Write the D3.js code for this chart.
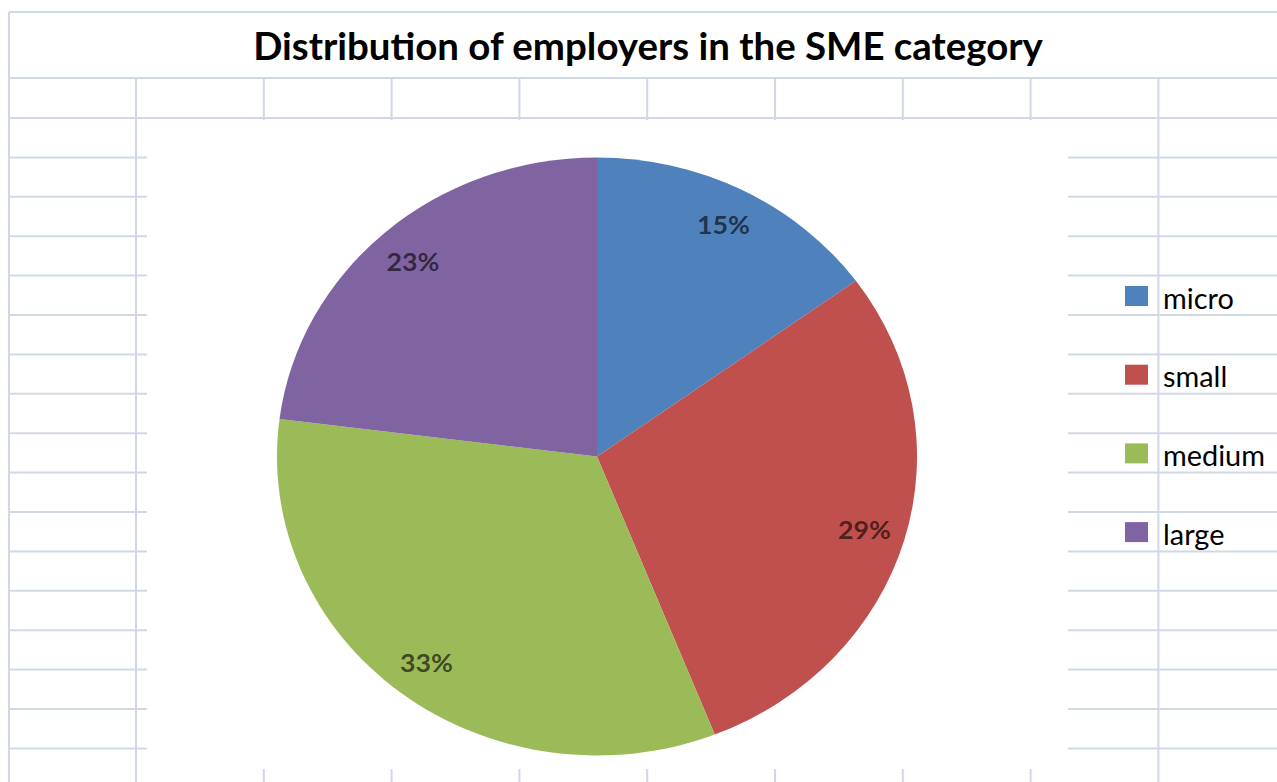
<!DOCTYPE html>
<html>
<head>
<meta charset="utf-8">
<script src="https://cdn.jsdelivr.net/npm/d3@7"></script>
<style>
  html, body { margin: 0; padding: 0; background: #ffffff; }
  svg { display: block; }
</style>
</head>
<body>
<svg id="chart" width="1277" height="782"></svg>
<script>
// Share of employers per size class (percent)
const categories = ["micro", "small", "medium", "large"];
const shares = [15, 29, 33, 23];
const sliceColors = ["#4f81bd", "#c0504d", "#9bbb59", "#8064a2"];
const titleText = "Distribution of employers in the SME category";

const W = 1277, H = 782;
const svg = d3.select("#chart");
const gridColor = "#d0d7e5";

// ---- spreadsheet grid behind the chart ----
const grid = svg.append("g").attr("stroke", gridColor).attr("stroke-width", 2);
const leftEdge = 9, topEdge = 12, titleRowBottom = 78, row2Bottom = 118;
const colStart = 136, colWidth = 127.8, nCols = 9;
const rowHeight = 39.4;
const colXs = d3.range(nCols + 1).map(i => colStart + i * colWidth);

// outer border of the merged title cell
grid.append("line").attr("x1", leftEdge).attr("x2", W).attr("y1", topEdge).attr("y2", topEdge);
grid.append("line").attr("x1", leftEdge).attr("x2", leftEdge).attr("y1", topEdge).attr("y2", H);
// horizontal rows
const rowYs = [titleRowBottom, row2Bottom].concat(
  d3.range(1, 20).map(i => row2Bottom + i * rowHeight).filter(y => y < H));
grid.selectAll("line.row").data(rowYs).join("line")
  .attr("class", "row")
  .attr("x1", leftEdge).attr("x2", W)
  .attr("y1", d => d).attr("y2", d => d);
// vertical columns
grid.selectAll("line.col").data(colXs).join("line")
  .attr("class", "col")
  .attr("x1", d => d).attr("x2", d => d)
  .attr("y1", titleRowBottom).attr("y2", H);

// ---- chart area (white plot box over the grid) ----
const plot = { x0: 147, x1: 1068, y0: 120, y1: 769 };
svg.append("rect")
  .attr("x", plot.x0).attr("y", plot.y0)
  .attr("width", plot.x1 - plot.x0).attr("height", plot.y1 - plot.y0)
  .attr("fill", "#ffffff");

// ---- title ----
const fontFamily = "Lato, Carlito, Calibri, 'Open Sans', sans-serif";
const title = svg.append("text")
  .attr("x", 648).attr("y", 60)
  .attr("text-anchor", "middle")
  .attr("font-family", fontFamily)
  .attr("font-weight", 700)
  .attr("font-size", 38)
  .attr("fill", "#000000")
  .text(titleText);
// size the title so it spans its cell like the original layout
(function fitTitle() {
  const w = title.node().getComputedTextLength();
  const target = 790;
  title.attr("font-size", 38 * target / w);
})();

// ---- pie ----
const ry = 299, rx = 320;
const cx = 597, cy = 456.5;
const pieG = svg.append("g")
  .attr("transform", `translate(${cx},${cy}) scale(${rx / ry},1)`);

const pie = d3.pie().sort(null).value(d => d)
  .startAngle(0).endAngle(2 * Math.PI);
const arcs = pie(shares);
const arc = d3.arc().innerRadius(0).outerRadius(ry);
const labelArc = d3.arc().innerRadius(ry * 0.87).outerRadius(ry * 0.87);

pieG.selectAll("path.slice").data(arcs).join("path")
  .attr("class", "slice")
  .attr("d", arc)
  .attr("fill", (d, i) => sliceColors[i]);

pieG.selectAll("text.pct").data(arcs).join("text")
  .attr("class", "pct")
  .attr("transform", d => `translate(${labelArc.centroid(d)})`)
  .attr("text-anchor", "middle")
  .attr("dominant-baseline", "central")
  .attr("font-family", fontFamily)
  .attr("font-weight", 700)
  .attr("font-size", 25)
  .attr("fill", "#000000")
  .attr("fill-opacity", 0.62)
  .text(d => d.data + "%");

// ---- legend ----
const legend = svg.append("g").attr("class", "legend");
const legendTop = 296, legendStep = 78.7;
const items = legend.selectAll("g.item").data(categories).join("g")
  .attr("class", "item")
  .attr("transform", (d, i) => `translate(1125,${legendTop + i * legendStep})`);
items.append("rect")
  .attr("x", 0).attr("y", -10)
  .attr("width", 23).attr("height", 20)
  .attr("fill", (d, i) => sliceColors[i]);
const legendText = items.append("text")
  .attr("x", 38).attr("y", 1)
  .attr("dominant-baseline", "central")
  .attr("font-family", fontFamily)
  .attr("font-size", 26)
  .attr("fill", "#000000")
  .text(d => d);
(function fitLegend() {
  const node = legendText.filter(d => d === "medium").node();
  const w = node.getComputedTextLength();
  legendText.attr("font-size", 26 * 102 / w);
})();
</script>
</body>
</html>
